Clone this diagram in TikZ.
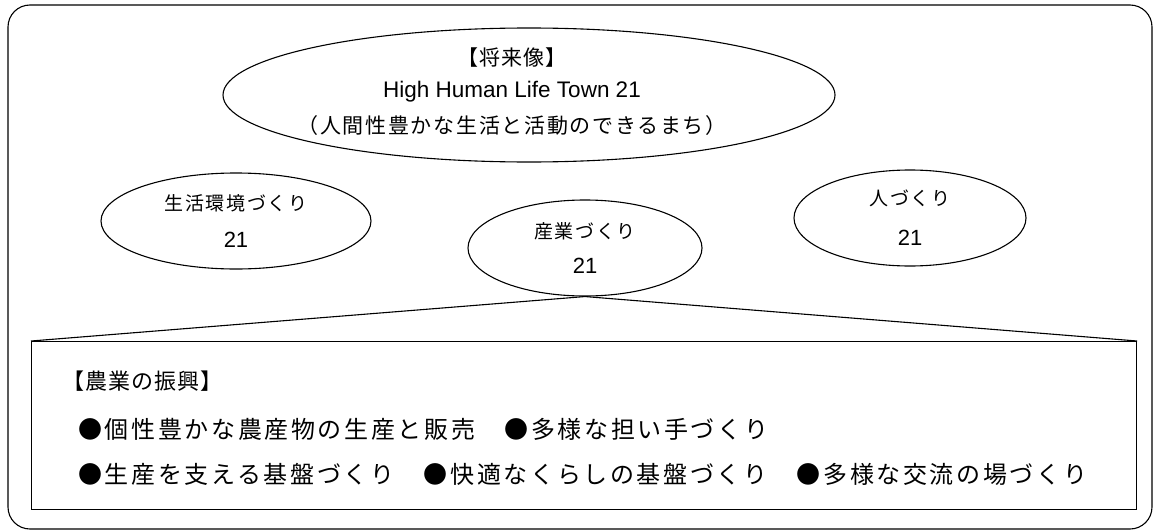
\documentclass[tikz,border=0pt]{standalone}
\usepackage{fontspec}
\setmainfont{Noto Sans CJK JP}
\newfontfamily\latinfont{Liberation Sans}
\newfontfamily\wideJP[LetterSpace=11]{Noto Sans CJK JP}
\newfontfamily\midJP[LetterSpace=8]{Noto Sans CJK JP}
\newfontfamily\headJP[LetterSpace=5]{Noto Sans CJK JP}
\usetikzlibrary{shapes.geometric, positioning}

\begin{document}
\begin{tikzpicture}[x=1pt, y=-1pt,
    oval/.style={draw, ellipse, line width=1.1pt, inner sep=0pt, align=center},
    plan/.style={draw, line width=1.1pt, inner sep=0pt},
    pillar/.style={oval, minimum height=96},
    item/.style={anchor=west, inner sep=0pt, font=\wideJP\fontsize{24}{24}\selectfont}]
    \useasboundingbox (0,0) rectangle (1153,530);
    % outer frame
    \draw[line width=1.1pt, rounded corners=22pt] (8,5) rectangle (1152,529);
    % vision and the three pillars
    \node[oval, minimum width=612, minimum height=134] (vision) at (529,95) {};
    \node[align=center, inner sep=0pt] (visiontext) at (512,92)
        {\headJP\fontsize{21}{21}\selectfont 【将来像】\\[12pt]
         \latinfont\fontsize{22.5}{22.5}\selectfont High Human Life Town 21\\[13pt]
         \midJP\fontsize{21}{21}\selectfont （人間性豊かな生活と活動のできるまち）};
    \node[pillar, minimum width=270] (life) at (236,221)
        {\midJP\fontsize{19}{19}\selectfont 生活環境づくり\\[20pt]\latinfont\fontsize{22}{22}\selectfont 21};
    \node[pillar, minimum width=234] (industry) at (585,248)
        {\midJP\fontsize{19}{19}\selectfont 産業づくり\\[18pt]\latinfont\fontsize{22}{22}\selectfont 21};
    \node[pillar, minimum width=232] (people) at (910,218)
        {\midJP\fontsize{19}{19}\selectfont 人づくり\\[22pt]\latinfont\fontsize{22}{22}\selectfont 21};
    % detail of the industry pillar
    \node[plan, anchor=north west, minimum width=1105, minimum height=168] (farm) at (31,341) {};
    \draw[line width=1.1pt] (farm.north west) -- (industry.south) -- (farm.north east);
    \node[item, font=\headJP\fontsize{22}{22}\selectfont] (head) at (62,381) {【農業の振興】};
    \node[item] (row1) at (78,429) {●個性豊かな農産物の生産と販売　●多様な担い手づくり};
    \node[item] (row2) at (78,474) {●生産を支える基盤づくり　●快適なくらしの基盤づくり　●多様な交流の場づくり};
\end{tikzpicture}
\end{document}
